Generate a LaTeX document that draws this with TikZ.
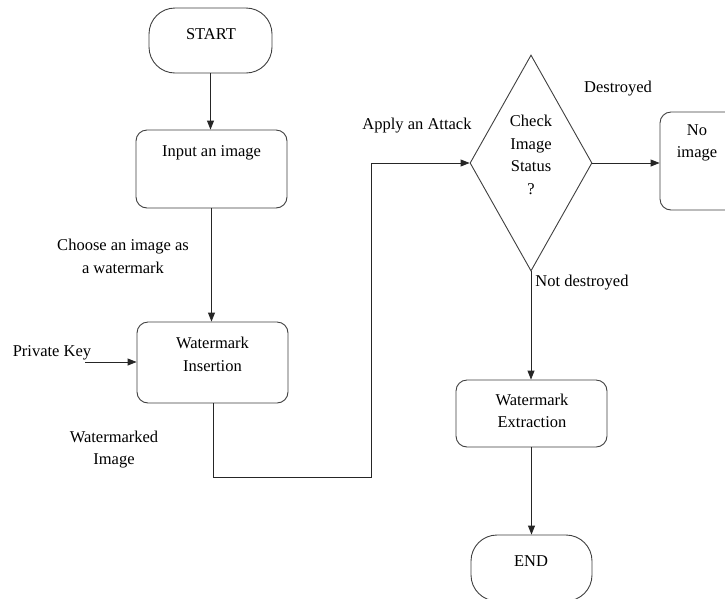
\documentclass[tikz,border=0pt]{standalone}
\usepackage{fontspec}
\setmainfont{Liberation Serif}
\usetikzlibrary{shapes.geometric,arrows.meta}
\begin{document}
\begin{tikzpicture}[x=1pt,y=-1pt,
  font=\fontsize{16.5}{22.5}\selectfont,
  shp/.style={draw=black!75, line width=0.9pt, inner sep=0pt},
  box/.style={shp, rectangle, rounded corners=11pt},
  term/.style={shp, rectangle, rounded corners=26pt},
  txt/.style={align=center, inner sep=0pt, text=black},
  conn/.style={draw=black!85, line width=0.9pt},
  arr/.style={conn, -{Triangle[length=9pt,width=7pt]}}]
\useasboundingbox (0,0) rectangle (725,598);
\clip (0,0) rectangle (725,598);
\fill[white] (0,0) rectangle (725,598);
% shapes
\node[term, minimum width=123pt, minimum height=65pt] (start) at (210.5,40.5) {};
\node[box, minimum width=151pt, minimum height=78pt] (input) at (211.5,169) {};
\node[box, minimum width=151pt, minimum height=81pt] (ins) at (212.5,362.5) {};
\node[shp, diamond, minimum width=122pt, minimum height=216pt] (chk) at (531,163) {};
\node[box, minimum width=130pt, minimum height=98pt] (noimg) at (725,161) {};
\node[box, minimum width=151pt, minimum height=67pt] (ext) at (531.5,413.5) {};
\node[term, minimum width=121pt, minimum height=66pt] (end) at (531.5,568) {};
% texts
\node[txt] (tstart) at (211,34) {START};
\node[txt] (tinput) at (211.5,153) {Input an image};
\node[txt] (tchoose) at (123,256.5) {Choose an image as\\a watermark};
\node[txt] (tins) at (212.5,354.5) {Watermark\\Insertion};
\node[txt] (tkey) at (52,353) {Private Key};
\node[txt] (twm) at (114,449.5) {Watermarked\\Image};
\node[txt] (tatk) at (417,126) {Apply an Attack};
\node[txt] (tchk) at (531,155) {Check\\Image\\Status\\?};
\node[txt] (tdes) at (618,89) {Destroyed};
\node[txt] (tno) at (697,143) {No\\image};
\node[txt] (tnot) at (582,283) {Not destroyed};
\node[txt] (text) at (532,411) {Watermark\\Extraction};
\node[txt] (tend) at (531,561) {END};
% connectors
\coordinate (keyin) at (85,362);
\coordinate (b1) at (213,477);
\coordinate (b2) at (371,477);
\path[arr] (start.south) -- (start.south |- input.north);
\path[arr] (input.south) -- (input.south |- ins.north);
\path[arr] (keyin) -- (keyin -| ins.west);
\path[arr] (ins.south -| b1) -- (b1) -- (b2) -- (b2 |- chk.west) -- (chk.west);
\path[arr] (chk.east) -- (chk.east -| noimg.west);
\path[arr] (chk.south) -- (chk.south |- ext.north);
\path[arr] (ext.south) -- (ext.south |- end.north);
\end{tikzpicture}
\end{document}
